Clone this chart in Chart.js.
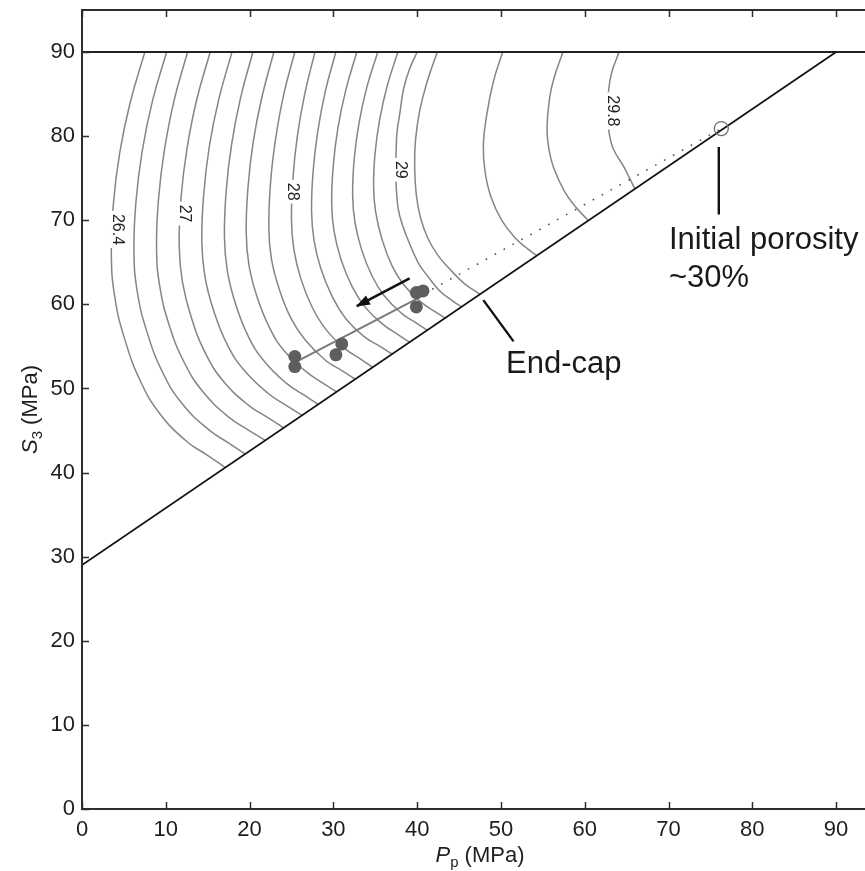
<!DOCTYPE html>
<html><head><meta charset="utf-8">
<script src="https://cdn.jsdelivr.net/npm/chart.js@4.4.1/dist/chart.umd.min.js"></script>
<style>
html,body{margin:0;padding:0;background:#fff;overflow:hidden;width:865px;height:871px}
#wrap{position:relative;width:880px;height:871px}
canvas{display:block}
</style>
</head><body><div id="wrap"><canvas id="c" width="880" height="871" style="width:880px;height:871px"></canvas></div>
<script>
// ---- data (Pp, S3 in MPa) ----
const contourLevels = [26.4,26.6,26.8,27.0,27.2,27.4,27.6,27.8,28.0,28.2,28.4,28.6,28.8,29.0,29.2,29.4,29.6,29.8];
const contour_26_4 = [[7.5,90],[5.75,84],[4.5,78],[3.75,72],[3.5,66],[3.91,60.9],[5.09,55.9],[7.01,50.8],[9.29,47.0],[12.5,43.7],[15.07,42.0],[17.1,40.6]];
const contour_26_6 = [[10.1,90],[8.39,84.1],[7.18,78.2],[6.44,72.2],[6.2,66.3],[6.6,61.5],[7.76,56.7],[9.63,51.9],[11.87,48.3],[15.0,45.2],[17.52,43.5],[19.5,42.2]];
const contour_26_8 = [[12.6,90],[10.98,84.2],[9.83,78.3],[9.13,72.5],[8.9,66.6],[9.29,62.1],[10.42,57.5],[12.25,53.0],[14.44,49.6],[17.51,46.6],[19.96,45.0],[21.9,43.8]];
const contour_27_0 = [[15.3,90],[13.68,84.3],[12.53,78.5],[11.83,72.8],[11.6,67],[11.98,62.7],[13.06,58.4],[14.83,54.0],[16.93,50.8],[19.88,48.0],[22.24,46.5],[24.1,45.3]];
const contour_27_2 = [[17.9,90],[16.33,84.4],[15.2,78.8],[14.53,73.1],[14.3,67.5],[14.66,63.4],[15.7,59.3],[17.4,55.1],[19.41,52.1],[22.24,49.4],[24.51,47.9],[26.3,46.8]];
const contour_27_4 = [[20.4,90],[18.91,84.5],[17.85,79],[17.21,73.5],[17.0,68],[17.34,64.0],[18.31,60.1],[19.89,56.1],[21.77,53.2],[24.41,50.6],[26.53,49.2],[28.2,48.1]];
const contour_27_6 = [[22.9,90],[21.46,84.6],[20.43,79.3],[19.81,73.9],[19.6,68.5],[19.92,64.7],[20.86,61.0],[22.39,57.2],[24.2,54.4],[26.75,52.0],[28.79,50.6],[30.4,49.6]];
const contour_27_8 = [[25.4,90],[24.04,84.8],[23.08,79.5],[22.49,74.3],[22.3,69],[22.61,65.4],[23.51,61.9],[24.96,58.3],[26.69,55.7],[29.12,53.3],[31.07,52.1],[32.6,51.1]];
const contour_28_0 = [[27.8,90],[26.58,85],[25.7,80],[25.18,75],[25.0,70],[25.29,66.5],[26.13,63.0],[27.5,59.6],[29.13,57.0],[31.42,54.7],[33.25,53.5],[34.7,52.5]];
const contour_28_2 = [[30.3,90],[29.03,85.3],[28.13,80.5],[27.58,75.8],[27.4,71],[27.69,67.6],[28.52,64.2],[29.88,60.9],[31.49,58.3],[33.76,56.1],[35.57,55.0],[37.0,54.1]];
const contour_28_4 = [[32.8,90],[31.49,85.5],[30.55,81],[29.99,76.5],[29.8,72],[30.08,68.7],[30.89,65.4],[32.2,62.2],[33.76,59.7],[35.96,57.6],[37.71,56.4],[39.1,55.5]];
const contour_28_6 = [[35.3,90],[33.99,85.8],[33.05,81.5],[32.49,77.3],[32.3,73],[32.57,69.8],[33.34,66.6],[34.6,63.4],[36.09,61.0],[38.19,58.9],[39.87,57.8],[41.2,56.9]];
const contour_28_8 = [[37.7,90],[36.43,86],[35.53,82],[34.98,78],[34.8,74],[35.06,70.9],[35.79,67.8],[36.99,64.6],[38.42,62.3],[40.43,60.3],[42.03,59.2],[43.3,58.4]];
const contour_29_0 = [[40.0,90],[39.1,88.0],[38.4,85.7],[37.9,82.5],[37.6,80.5],[37.5,78.5],[37.45,75.5],[37.6,72.5],[37.9,70.6],[38.7,68.2],[40.1,65.0],[41.3,63.3],[42.7,61.6],[44.1,60.5],[45.3,59.7]];
const contour_29_2 = [[42.4,90],[41.2,86.5],[40.3,83.0],[39.8,79.5],[39.7,76.5],[39.9,73.0],[40.4,70.3],[41.3,67.8],[42.5,65.8],[43.9,64.2],[45.6,62.5],[47.5,61.2]];
const contour_29_4 = [[50.2,90],[49.1,86.5],[48.3,82.5],[47.9,79.0],[48.1,75.8],[48.8,72.8],[50.1,70.0],[51.8,67.8],[53.2,66.6],[54.3,65.8]];
const contour_29_6 = [[57.4,90],[56.3,86.8],[55.8,84.5],[55.5,81.0],[55.7,78.6],[56.3,76.2],[57.6,73.4],[58.9,71.6],[60.4,70.0]];
const contour_29_8 = [[64.1,90],[63.2,87.5],[62.8,85.0],[62.7,82.9],[62.9,80.5],[63.4,78.5],[64.7,76.3],[66.0,73.7]];
const contourPaths = [contour_26_4,contour_26_6,contour_26_8,contour_27_0,contour_27_2,contour_27_4,contour_27_6,contour_27_8,contour_28_0,contour_28_2,contour_28_4,contour_28_6,contour_28_8,contour_29_0,contour_29_2,contour_29_4,contour_29_6,contour_29_8];
const labelledLevels = ["26.4","27","28","29","29.8"];

const expPp = [25.4,25.4,31.0,30.3,39.9,40.7,39.9];
const expS3 = [53.8,52.6,55.3,54.0,61.4,61.6,59.7];
const pathPp = [25.6,40.4];
const pathS3 = [53.2,60.9];
const initialPp = [76.3];
const initialS3 = [80.9];
const trendPp = [41.8,76.3];
const trendS3 = [61.8,80.9];
const endCapPp = [0,90];
const endCapS3 = [29.0,90];
const limitPp = [0,95];
const limitS3 = [90,90];
const arrowPp = [39.1,32.8];
const arrowS3 = [63.1,59.8];
const porosityPointerPp = [76.0,76.0];
const porosityPointerS3 = [78.7,70.7];
const endCapPointerPp = [47.9,51.5];
const endCapPointerS3 = [60.5,55.6];

// ---- chart ----
const FONT = '"Liberation Sans", Arial, Helvetica, sans-serif';
Chart.defaults.font.family = FONT;
const zip = (xs, ys) => xs.map((v, i) => ({x: v, y: ys[i]}));
const pts = arr => arr.map(p => ({x: p[0], y: p[1]}));

const datasets = [];
datasets.push({label:'exp', data: zip(expPp, expS3), pointRadius: 6.5, pointBackgroundColor:'#5e5e5e', pointBorderWidth:0, showLine:false, order:0});
datasets.push({label:'initial', data: zip(initialPp, initialS3), pointRadius: 7, pointBackgroundColor:'rgba(0,0,0,0)', pointBorderColor:'#6e6e6e', pointBorderWidth:1.3, showLine:false, order:1});
datasets.push({label:'arrow', data: zip(arrowPp, arrowS3), borderColor:'#111', borderWidth:2.6, pointRadius:0, order:2});
datasets.push({label:'path', data: zip(pathPp, pathS3), borderColor:'#7a7a7a', borderWidth:2, pointRadius:0, order:3});
datasets.push({label:'trend', data: zip(trendPp, trendS3), borderColor:'#555', borderWidth:1.6, borderDash:[1.6,8.6], pointRadius:0, order:4});
datasets.push({label:'porosityPointer', data: zip(porosityPointerPp, porosityPointerS3), borderColor:'#111', borderWidth:2.4, pointRadius:0, order:5});
datasets.push({label:'endCapPointer', data: zip(endCapPointerPp, endCapPointerS3), borderColor:'#111', borderWidth:2.4, pointRadius:0, order:5});
datasets.push({label:'endcap', data: zip(endCapPp, endCapS3), borderColor:'#111', borderWidth:1.7, pointRadius:0, order:6});
datasets.push({label:'limit', data: zip(limitPp, limitS3), borderColor:'#222', borderWidth:2, pointRadius:0, order:6});
contourPaths.forEach((p, i) => {
  datasets.push({label:'c'+contourLevels[i], data: pts(p), tension:0.45,
    borderColor:'#858585', borderWidth:1.5, pointRadius:0, order:10});
});

const overlay = {
  id: 'overlay',
  afterDatasetsDraw(chart, args, opts) {
    const {ctx, scales: {x, y}} = chart;
    ctx.save();
    ctx.font = '16px ' + FONT;
    labelledLevels.forEach((txt, i) => {
      const a = opts.labelAt[i];
      const px = x.getPixelForValue(a[0]), py = y.getPixelForValue(a[1]);
      const w = ctx.measureText(txt).width;
      ctx.save();
      ctx.translate(px, py);
      ctx.rotate(Math.PI / 2);
      ctx.fillStyle = '#fff';
      ctx.fillRect(-w / 2 - 3, -8, w + 6, 16);
      ctx.fillStyle = '#222';
      ctx.textAlign = 'center';
      ctx.textBaseline = 'middle';
      ctx.fillText(txt, 0, 1);
      ctx.restore();
    });
    ctx.restore();
    const x0 = x.getPixelForValue(arrowPp[0]), y0 = y.getPixelForValue(arrowS3[0]);
    const x1 = x.getPixelForValue(arrowPp[1]), y1 = y.getPixelForValue(arrowS3[1]);
    const ang = Math.atan2(y1 - y0, x1 - x0);
    ctx.save();
    ctx.translate(x1, y1);
    ctx.rotate(ang);
    ctx.fillStyle = '#111';
    ctx.beginPath();
    ctx.moveTo(1, 0); ctx.lineTo(-13, -5); ctx.lineTo(-13, 5); ctx.closePath();
    ctx.fill();
    ctx.restore();
  },
  afterDraw(chart, args, opts) {
    const {ctx, chartArea: a, scales: {x, y}} = chart;
    ctx.save();
    ctx.strokeStyle = '#2e2e2e';
    ctx.lineWidth = 2;
    ctx.strokeRect(a.left, a.top, a.right - a.left, a.bottom - a.top);
    ctx.lineWidth = 1.5;
    ctx.beginPath();
    x.ticks.forEach(t => {
      const px = Math.round(x.getPixelForValue(t.value)) + 0.5;
      ctx.moveTo(px, a.bottom); ctx.lineTo(px, a.bottom - 7);
      ctx.moveTo(px, a.top); ctx.lineTo(px, a.top + 7);
    });
    y.ticks.forEach(t => {
      const py = Math.round(y.getPixelForValue(t.value)) + 0.5;
      ctx.moveTo(a.left, py); ctx.lineTo(a.left + 7, py);
      ctx.moveTo(a.right, py); ctx.lineTo(a.right - 7, py);
    });
    ctx.stroke();
    ctx.fillStyle = '#1a1a1a';
    ctx.font = '31px ' + FONT;
    ctx.textAlign = 'left';
    ctx.textBaseline = 'alphabetic';
    opts.texts.forEach(t => {
      ctx.fillText(t.text, x.getPixelForValue(t.at[0]), y.getPixelForValue(t.at[1]));
    });
    const big = '22px ' + FONT, bigIt = 'italic 22px ' + FONT, small = '15px ' + FONT;
    function drawTitle(parts, cx, cy, rot) {
      ctx.save();
      ctx.translate(cx, cy);
      ctx.rotate(rot);
      let total = 0;
      parts.forEach(p => { ctx.font = p.f; p.w = ctx.measureText(p.t).width; total += p.w; });
      let cur = -total / 2;
      parts.forEach(p => { ctx.font = p.f; ctx.fillText(p.t, cur, p.dy || 0); cur += p.w; });
      ctx.restore();
    }
    ctx.fillStyle = '#1e1e1e';
    drawTitle([{t:'P', f:bigIt}, {t:'p', f:small, dy:5}, {t:' (MPa)', f:big}], (a.left + a.right) / 2, 862, 0);
    drawTitle([{t:'S', f:bigIt}, {t:'3', f:small, dy:5}, {t:' (MPa)', f:big}], 37, (a.top + a.bottom) / 2, -Math.PI / 2);
    ctx.restore();
  }
};

new Chart(document.getElementById('c'), {
  type: 'line',
  data: {datasets},
  options: {
    responsive: false,
    devicePixelRatio: 1,
    animation: false,
    events: [],
    layout: {autoPadding: false, padding: {top: 10, right: 2, left: 0, bottom: 0}},
    plugins: {
      legend: {display: false},
      tooltip: {enabled: false},
      overlay: {
        labelAt: [[4.3,68.9],[12.4,70.8],[25.2,73.4],[38.1,76.0],[63.4,83.0]],
        texts: [
          {text: 'Initial porosity', at: [70.05, 66.6]},
          {text: '~30%', at: [70.05, 62.1]},
          {text: 'End-cap', at: [50.6, 51.85]}
        ]
      }
    },
    scales: {
      x: {
        type: 'linear', min: 0, max: 95,
        grid: {display: false, drawTicks: false},
        border: {display: false},
        ticks: {stepSize: 10, includeBounds: false, padding: 8, color: '#1e1e1e', font: {size: 22}, maxRotation: 0, autoSkip: false},
        afterFit(s) { s.height = 62; s.paddingLeft = 0; s.paddingRight = 0; }
      },
      y: {
        type: 'linear', min: 0, max: 95,
        grid: {display: false, drawTicks: false},
        border: {display: false},
        ticks: {stepSize: 10, includeBounds: false, padding: 7, color: '#1e1e1e', font: {size: 22}, autoSkip: false},
        afterFit(s) { s.width = 82; s.paddingTop = 0; s.paddingBottom = 0; }
      }
    }
  },
  plugins: [overlay]
});
</script>
</body></html>
